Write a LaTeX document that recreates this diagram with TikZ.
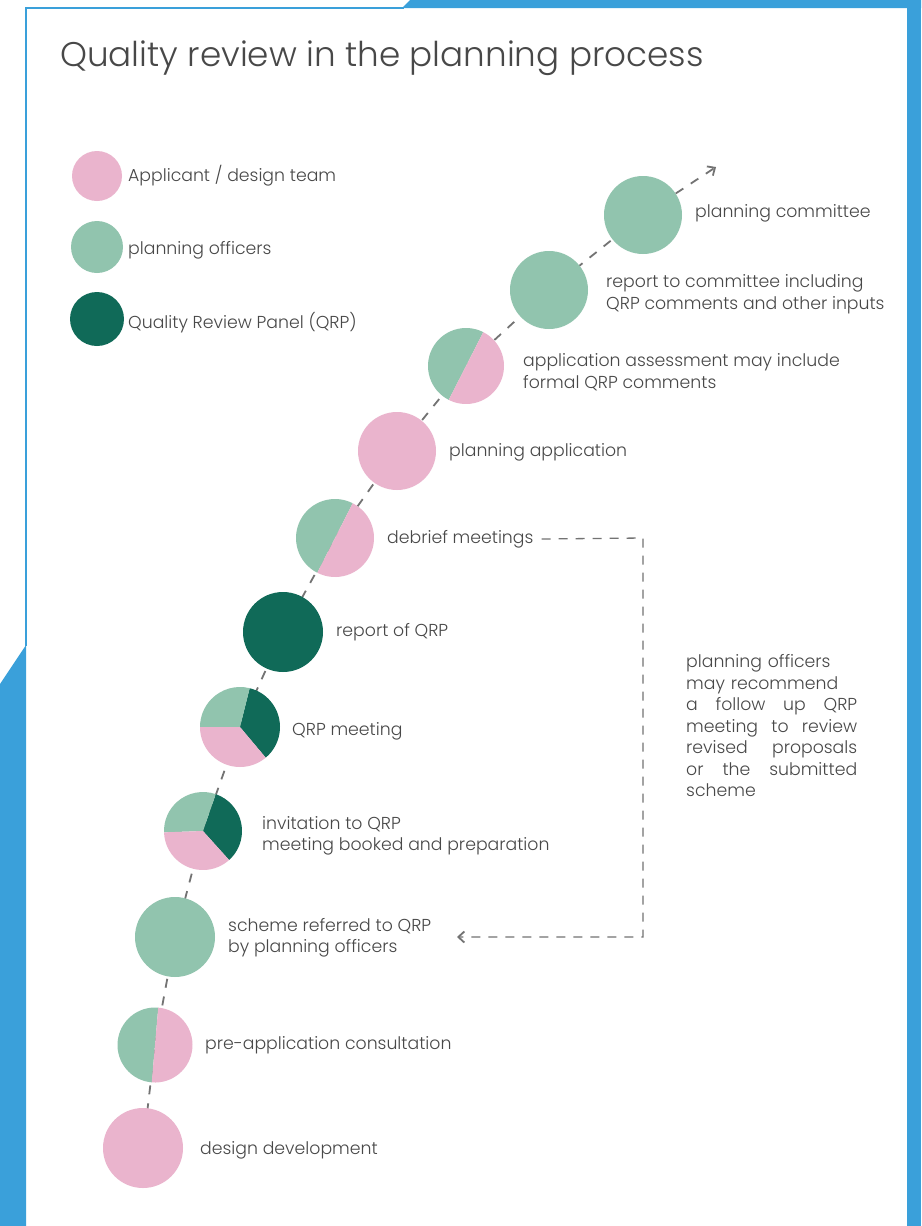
\documentclass[tikz,border=0pt]{standalone}
\usepackage{fontspec}
\setmainfont{Poppins}[UprightFont=* Light]
\usetikzlibrary{arrows.meta,backgrounds}
\definecolor{pinkc}{RGB}{234,180,205}
\definecolor{lgreen}{RGB}{145,196,174}
\definecolor{dgreen}{RGB}{16,106,88}
\definecolor{bblue}{RGB}{58,160,218}
\definecolor{txt}{RGB}{72,72,72}
\definecolor{dashc}{RGB}{115,115,115}
\begin{document}
\begin{tikzpicture}[x=1pt,y=-1pt,
  stage/.style={circle, minimum size=78pt, inner sep=0pt},
  legc/.style={circle, minimum size=52pt, inner sep=0pt},
  lab/.style={anchor=west, inner sep=0pt, text=txt, font=\fontsize{17.3}{21.5}\selectfont, align=left},
  chainline/.style={draw=dashc, line width=1.8pt, dash pattern=on 9pt off 9pt},
  fbline/.style={draw=dashc, line width=1.3pt, dash pattern=on 9pt off 8pt},
  tip/.style={-{Straight Barb[length=6pt,width=11pt,line width=1.8pt]}}
]
\begin{pgfonlayer}{background}
\useasboundingbox (0,0) rectangle (921,1226);
\fill[white] (0,0) rectangle (921,1226);
\fill[bblue] (0,684) -- (26,645) -- (26,1226) -- (0,1226) -- cycle;
\fill[bblue] (907,0) rectangle (921,1226);
\fill[bblue] (402,8) -- (410,0) -- (921,0) -- (921,8) -- cycle;
\draw[bblue, line width=1.5pt] (26,646) -- (26,8) -- (404,8);
\end{pgfonlayer}

% title
\node[anchor=west, inner sep=0pt, text=txt, font=\fontsize{34.2}{38}\selectfont] (title) at (60,58) {Quality review in the planning process};

% legend
\node[legc, minimum size=50pt, fill=pinkc] (l1) at (97,176) {};
\node[legc, fill=lgreen] (l2) at (97,247) {};
\node[legc, minimum size=54pt, fill=dgreen] (l3) at (97,319) {};
\node[lab] (ll1) at (128,176) {Applicant / design team};
\node[lab] (ll2) at (128,250) {planning officers};
\node[lab] (ll3) at (128,323) {Quality Review Panel (QRP)};

% stages
\node[stage, minimum size=80pt, fill=pinkc] (c1) at (143,1148) {};
\node[stage, minimum size=75pt] (c2) at (155,1045) {};
\node[stage, minimum size=80pt, fill=lgreen] (c3) at (175,937) {};
\node[stage, minimum size=78pt] (c4) at (203,831) {};
\node[stage, minimum size=80pt] (c5) at (240,727) {};
\node[stage, minimum size=80pt, fill=dgreen] (c6) at (283,632) {};
\node[stage, minimum size=78pt] (c7) at (335,538) {};
\node[stage, minimum size=78pt, fill=pinkc] (c8) at (397,451) {};
\node[stage, minimum size=76pt] (c9) at (466,366) {};
\node[stage, minimum size=78pt, fill=lgreen] (c10) at (549,290) {};
\node[stage, minimum size=78pt, fill=lgreen] (c11) at (643,215) {};

% split circles (y axis points down, so angles are negated)
\fill[lgreen] (c2.center) -- ++(-85:37.5) arc[start angle=-85, end angle=-265, radius=37.5] -- cycle;
\fill[pinkc] (c2.center) -- ++(-265:37.5) arc[start angle=-265, end angle=-445, radius=37.5] -- cycle;
\fill[lgreen] (c7.center) -- ++(-63:39) arc[start angle=-63, end angle=-243, radius=39] -- cycle;
\fill[pinkc] (c7.center) -- ++(-243:39) arc[start angle=-243, end angle=-423, radius=39] -- cycle;
\fill[lgreen] (c9.center) -- ++(-63:38) arc[start angle=-63, end angle=-243, radius=38] -- cycle;
\fill[pinkc] (c9.center) -- ++(-243:38) arc[start angle=-243, end angle=-423, radius=38] -- cycle;
% three-part circles
\fill[dgreen] (c4.center) -- ++(48:39) arc[start angle=48, end angle=-71, radius=39] -- cycle;
\fill[lgreen] (c4.center) -- ++(-71:39) arc[start angle=-71, end angle=-182, radius=39] -- cycle;
\fill[pinkc] (c4.center) -- ++(-182:39) arc[start angle=-182, end angle=-312, radius=39] -- cycle;
\fill[dgreen] (c5.center) -- ++(50:40) arc[start angle=50, end angle=-76, radius=40] -- cycle;
\fill[lgreen] (c5.center) -- ++(-76:40) arc[start angle=-76, end angle=-180, radius=40] -- cycle;
\fill[pinkc] (c5.center) -- ++(-180:40) arc[start angle=-180, end angle=-310, radius=40] -- cycle;

% chain line behind circles
\begin{pgfonlayer}{background}
\draw[chainline] (c1.center) -- (c2.center) -- (c3.center) -- (c4.center) -- (c5.center) -- (c6.center) -- (c7.center) -- (c8.center) -- (c9.center) -- (c10.center) -- (c11.center);
\end{pgfonlayer}
\coordinate (arrowend) at (716,167);
\draw[chainline, tip] (c11) -- (arrowend);

% stage labels
\node[lab] (t1) at (200,1150) {design development};
\node[lab] (t2) at (205,1045) {pre-application consultation};
\node[lab] (t3) at (228,938) {scheme referred to QRP\\by planning officers};
\node[lab] (t4) at (262,836) {invitation to QRP\\meeting booked and preparation};
\node[lab] (t5) at (292,731) {QRP meeting};
\node[lab] (t6) at (336,632) {report of QRP};
\node[lab] (t7) at (387,539) {debrief meetings};
\node[lab] (t8) at (449,452) {planning application};
\node[lab] (t9) at (523,372) {application assessment may include\\formal QRP comments};
\node[lab] (t10) at (606,294) {report to committee including\\QRP comments and other inputs};
\node[lab] (t11) at (695,213) {planning committee};

% side note
\node[lab, text width=171pt] (note) at (686,726) {%
planning officers\\
may recommend\\
\makebox[171pt][l]{a\hfill follow\hfill up\hfill QRP}\\
\makebox[171pt][l]{meeting\hfill to\hfill review}\\
\makebox[171pt][l]{revised\hfill proposals}\\
\makebox[171pt][l]{or\hfill the\hfill submitted}\\
scheme};

% feedback loop
\coordinate (fb1) at (643,538);
\coordinate (fb2) at (643,937);
\coordinate (fbend) at (457,937);
\draw[fbline, tip] ([xshift=8pt]t7.east) -- (fb1) -- (fb2) -- (fbend);
\end{tikzpicture}
\end{document}
